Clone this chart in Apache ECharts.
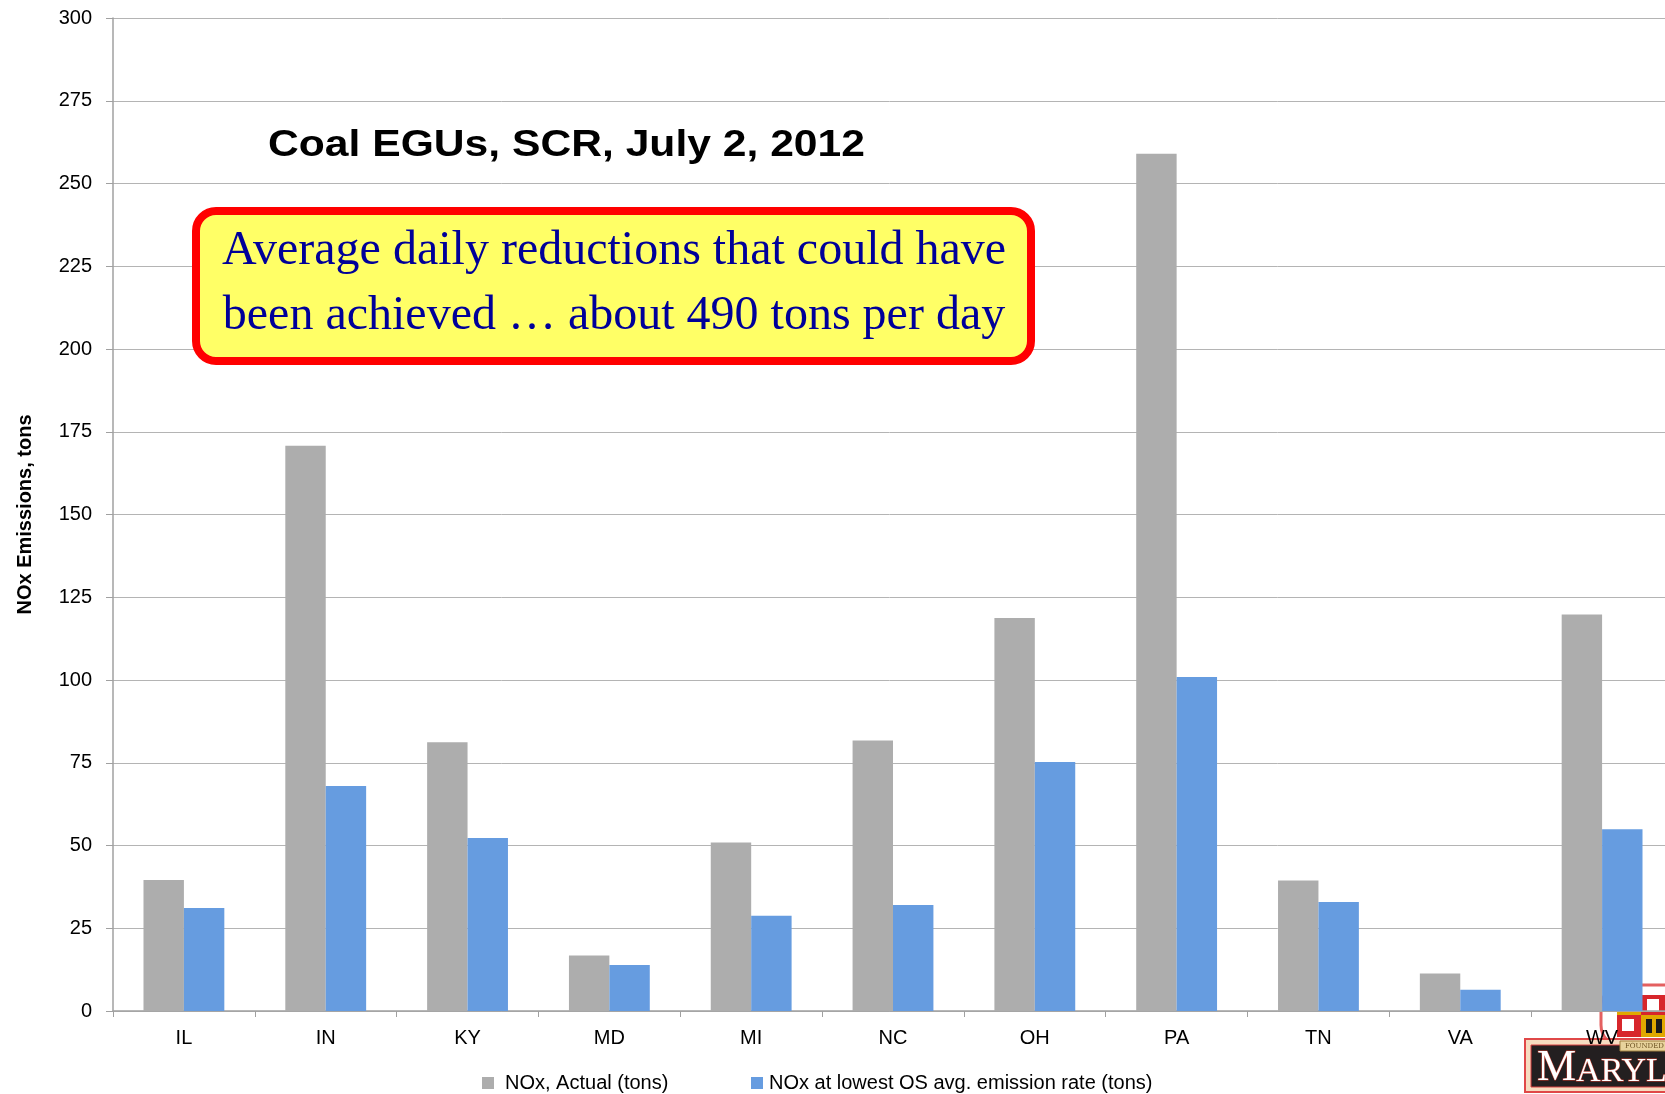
<!DOCTYPE html>
<html>
<head>
<meta charset="utf-8">
<title>Coal EGUs, SCR, July 2, 2012</title>
<script src="https://cdn.jsdelivr.net/npm/echarts@6/dist/echarts.min.js"></script>
<style>
    html, body { margin: 0; padding: 0; background: #fff; }
    #chart_nox { width: 1665px; height: 1094px; }
</style>
</head>
<body>
<div id="chart_nox"></div>
<script>
// data
var states = ['IL', 'IN', 'KY', 'MD', 'MI', 'NC', 'OH', 'PA', 'TN', 'VA', 'WV'];
var noxActual = [39.6, 170.8, 81.2, 16.8, 50.9, 81.7, 118.7, 259.0, 39.4, 11.3, 119.8];
var noxLowestRate = [31.1, 68.0, 52.3, 13.9, 28.8, 32.0, 75.2, 100.9, 32.9, 6.4, 54.9];
var seriesNames = ['NOx, Actual (tons)', 'NOx at lowest OS avg. emission rate (tons)'];
var yTicks = { min: 0, max: 300, step: 25 };

var chartTitle = 'Coal EGUs, SCR, July 2, 2012';
var noteLines = ['Average daily reductions that could have', 'been achieved \u2026 about 490 tons per day'];

function buildLogo() {
    // rough stand-in for the Maryland logo in the corner
    return {
        type: 'group',
        z: -5,
        children: [
            { type: 'rect', shape: { x: 1601, y: 985, width: 84, height: 62, r: 22 },
              style: { fill: '#fff', stroke: '#e46060', lineWidth: 3 } },
            // flag quarters
            { type: 'rect', shape: { x: 1617, y: 995, width: 24, height: 20 }, style: { fill: '#e0a800' } },
            { type: 'rect', shape: { x: 1641, y: 995, width: 24, height: 20 }, style: { fill: '#d7262b' } },
            { type: 'rect', shape: { x: 1647, y: 999, width: 12, height: 12 }, style: { fill: '#fff' } },
            { type: 'rect', shape: { x: 1617, y: 1015, width: 24, height: 22 }, style: { fill: '#d7262b' } },
            { type: 'rect', shape: { x: 1622, y: 1019, width: 12, height: 12 }, style: { fill: '#fff' } },
            { type: 'rect', shape: { x: 1641, y: 1015, width: 24, height: 22 }, style: { fill: '#e0a800' } },
            { type: 'rect', shape: { x: 1646, y: 1019, width: 6, height: 14 }, style: { fill: '#1a1a1a' } },
            { type: 'rect', shape: { x: 1656, y: 1019, width: 6, height: 14 }, style: { fill: '#1a1a1a' } },
            // sign board
            { type: 'rect', shape: { x: 1525, y: 1039, width: 150, height: 53 },
              style: { fill: '#f6dcc0', stroke: '#e04848', lineWidth: 2 } },
            { type: 'rect', shape: { x: 1531, y: 1045, width: 140, height: 42 },
              style: { fill: '#231f20', stroke: '#d94040', lineWidth: 1 } },
            { type: 'rect', shape: { x: 1620, y: 1041, width: 50, height: 10 },
              style: { fill: '#e8d39c', stroke: '#a08040', lineWidth: 1 } },
            { type: 'text', style: { x: 1625, y: 1046, text: 'FOUNDED 1634', fill: '#6b5020',
              font: '7px "DejaVu Serif"', verticalAlign: 'middle' } },
            { type: 'text', style: {
                x: 1537, y: 1068, text: '{m|M}{r|ARYLAND}', verticalAlign: 'middle',
                rich: {
                    m: { fontSize: 44, fontFamily: 'Liberation Serif', fill: '#fff', stroke: '#c0392b', lineWidth: 1 },
                    r: { fontSize: 34, fontFamily: 'Liberation Serif', fill: '#fff', stroke: '#c0392b', lineWidth: 1,
                         padding: [8, 0, 0, 0] }
                }
            } }
        ]
    };
}

function renderChart() {
    var chartDom = document.getElementById('chart_nox');
    var myChart = echarts.init(chartDom);

    var option = {
        animation: false,
        backgroundColor: '#fff',
        color: ['#adadad', '#669ce0'],
        // plot runs a little past the right edge of the slide
        grid: { left: 113, top: 18, width: 1560, height: 993, outerBoundsMode: 'none', containLabel: false },
        legend: [
            {
                data: [seriesNames[0]],
                left: 477, top: 1068,
                icon: 'rect', itemWidth: 12, itemHeight: 12,
                textStyle: { fontSize: 20, fontFamily: 'Liberation Sans', color: '#000', padding: [0, 0, 0, 6] }
            },
            {
                data: [seriesNames[1]],
                left: 746, top: 1068,
                icon: 'rect', itemWidth: 12, itemHeight: 12,
                textStyle: { fontSize: 20, fontFamily: 'Liberation Sans', color: '#000', padding: [0, 0, 0, 1] }
            }
        ],
        xAxis: {
            type: 'category',
            data: states,
            axisLine: { lineStyle: { color: '#a0a0a0', width: 1.5 } },
            axisTick: { show: true, length: 6, alignWithLabel: false, lineStyle: { color: '#a0a0a0' } },
            axisLabel: { fontSize: 20, fontFamily: 'Liberation Sans', color: '#000', margin: 17 }
        },
        yAxis: {
            type: 'value',
            min: yTicks.min,
            max: yTicks.max,
            interval: yTicks.step,
            name: 'NOx Emissions, tons',
            nameLocation: 'middle',
            nameRotate: 90,
            nameGap: 78,
            nameTextStyle: { fontSize: 20, fontWeight: 'bold', fontFamily: 'Liberation Sans', color: '#000' },
            axisLine: { show: true, lineStyle: { color: '#a0a0a0', width: 1.5 } },
            axisTick: { show: true, length: 7, lineStyle: { color: '#a0a0a0' } },
            axisLabel: { fontSize: 20, fontFamily: 'Liberation Sans', color: '#000', margin: 21 },
            splitLine: { lineStyle: { color: '#b4b4b4', width: 1 } }
        },
        series: [
            {
                name: seriesNames[0],
                type: 'bar',
                data: noxActual,
                barGap: '0%',
                barCategoryGap: '43%',
                z: 3
            },
            {
                name: seriesNames[1],
                type: 'bar',
                data: noxLowestRate,
                z: 3
            }
        ],
        graphic: [
            buildLogo(),
            {
                type: 'text',
                x: 268, y: 146,
                scaleX: 1.184,
                z: 10,
                style: {
                    x: 0, y: 0,
                    text: chartTitle,
                    fill: '#000',
                    font: 'bold 36px "Liberation Sans"',
                    textAlign: 'left',
                    verticalAlign: 'middle'
                }
            },
            {
                type: 'rect',
                z: 10,
                shape: { x: 196, y: 211, width: 835, height: 150, r: 20 },
                style: { fill: '#ffff66', stroke: '#ff0000', lineWidth: 8 }
            },
            {
                type: 'text',
                z: 11,
                style: {
                    x: 614, y: 251,
                    text: noteLines[0],
                    fill: '#000099',
                    font: '48px "Liberation Serif"',
                    textAlign: 'center',
                    verticalAlign: 'middle'
                }
            },
            {
                type: 'text',
                z: 11,
                style: {
                    x: 614, y: 316,
                    text: noteLines[1],
                    fill: '#000099',
                    font: '48px "Liberation Serif"',
                    textAlign: 'center',
                    verticalAlign: 'middle'
                }
            }
        ]
    };

    myChart.setOption(option);
}

renderChart();
</script>
</body>
</html>
